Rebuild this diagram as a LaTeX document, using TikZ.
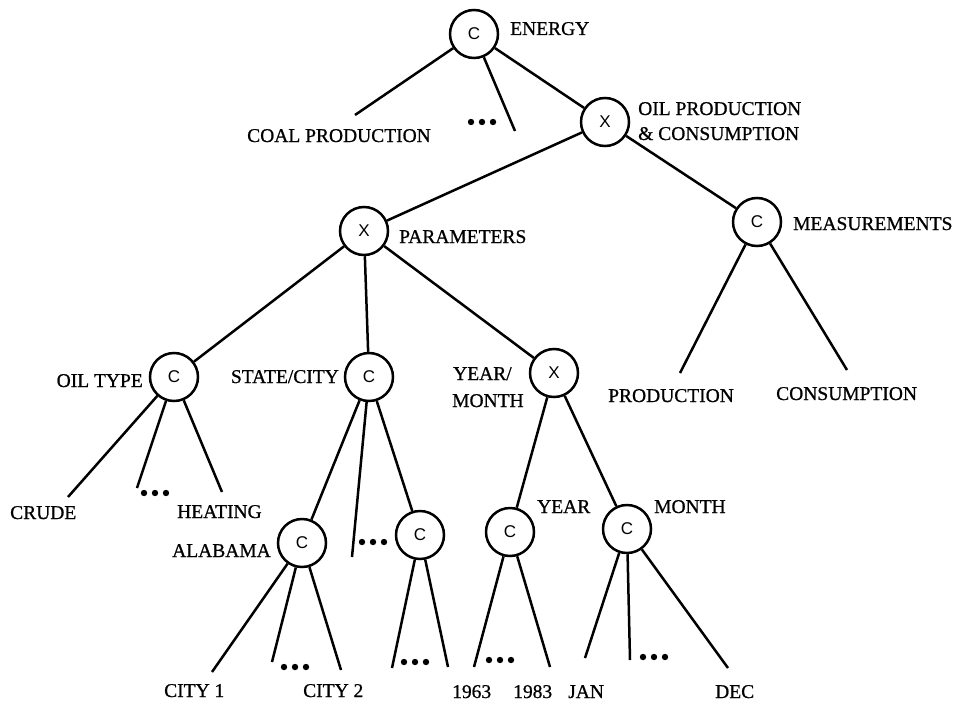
\documentclass[tikz,border=0pt]{standalone}
\usepackage{fontspec}
\setmainfont[FakeBold=0.8]{Liberation Serif}
\newfontfamily\circfont{Liberation Sans}
\begin{document}
\begin{tikzpicture}[x=1pt,y=-1pt,
  op/.style={circle,draw,line width=2.5pt,minimum size=48pt,inner sep=0pt,font=\circfont\fontsize{17}{17}\selectfont},
  lab/.style={inner sep=0pt,font=\fontsize{19.5}{20}\selectfont},
  edge/.style={line width=2.5pt},
  ell/.pic={\foreach \dx in {-11,0,11} \fill (\dx,0) circle (3.2);}
]
\useasboundingbox (0,0) rectangle (955,701);

% operator circles
\node[op] (en)    at (474,34)  {C};
\node[op] (oil)   at (605,122) {X};
\node[op] (par)   at (364,231) {X};
\node[op] (meas)  at (757,222) {C};
\node[op] (otype) at (174,377) {C};
\node[op] (sc)    at (369,377) {C};
\node[op] (ym)    at (554,373) {X};
\node[op] (ala)   at (302,543) {C};
\node[op] (un)    at (420,535) {C};
\node[op] (yr)    at (510,532) {C};
\node[op] (mo)    at (627,529) {C};

% labels
\node[lab,anchor=base west] (lenergy) at (510,35) {ENERGY};
\node[lab,anchor=base west] (lcoal) at (247,142) {COAL PRODUCTION};
\node[lab,anchor=base west] (loil1) at (638,115) {OIL PRODUCTION};
\node[lab,anchor=base west] (loil2) at (638,140) {\& CONSUMPTION};
\node[lab,anchor=base west] (lpar) at (399,243) {PARAMETERS};
\node[lab,anchor=base west] (lmeas) at (793,230) {MEASUREMENTS};
\node[lab,anchor=base east] (lotype) at (143,387) {OIL TYPE};
\node[lab,anchor=base east] (lsc) at (339,383) {STATE/CITY};
\node[lab,anchor=base west] (lym1) at (453,380) {YEAR/};
\node[lab,anchor=base west] (lym2) at (452,407) {MONTH};
\node[lab,anchor=base west] (lprod) at (608,402) {PRODUCTION};
\node[lab,anchor=base west] (lcons) at (776,400) {CONSUMPTION};
\node[lab,anchor=base west] (lcrude) at (10,519) {CRUDE};
\node[lab,anchor=base west] (lheat) at (177,518) {HEATING};
\node[lab,anchor=base east] (lala) at (271,557) {ALABAMA};
\node[lab,anchor=base west] (lyear) at (537,513) {YEAR};
\node[lab,anchor=base west] (lmonth) at (654,513) {MONTH};
\node[lab,anchor=base west] (lcity1) at (164,697) {CITY 1};
\node[lab,anchor=base west] (lcity2) at (303,697) {CITY 2};
\node[lab,anchor=base west] (l1963) at (452,698) {1963};
\node[lab,anchor=base west] (l1983) at (513,698) {1983};
\node[lab,anchor=base west] (ljan) at (568,698) {JAN};
\node[lab,anchor=base west] (ldec) at (715,698) {DEC};

% free ends
\coordinate (e1) at (355,115);
\coordinate (e2) at (515,131);
\coordinate (m1) at (680,373);
\coordinate (m2) at (847,370);
\coordinate (o1) at (68,497);
\coordinate (o2) at (137,488);
\coordinate (o3) at (222,492);
\coordinate (s2) at (352,557);
\coordinate (a1) at (212,672);
\coordinate (a2) at (272,662);
\coordinate (a3) at (341,670);
\coordinate (u1) at (392,668);
\coordinate (u2) at (448,667);
\coordinate (y1) at (474,667);
\coordinate (y2) at (550,667);
\coordinate (n1) at (585,658);
\coordinate (n2) at (630,660);
\coordinate (n3) at (728,668);

% connectors
\draw[edge] (en) -- (e1);
\draw[edge] (en) -- (e2);
\draw[edge] (en) -- (oil);
\draw[edge] (oil) -- (par);
\draw[edge] (oil) -- (meas);
\draw[edge] (meas) -- (m1);
\draw[edge] (meas) -- (m2);
\draw[edge] (par) -- (otype);
\draw[edge] (par) -- (sc);
\draw[edge] (par) -- (ym);
\draw[edge] (otype) -- (o1);
\draw[edge] (otype) -- (o2);
\draw[edge] (otype) -- (o3);
\draw[edge] (sc) -- (ala);
\draw[edge] (sc) -- (s2);
\draw[edge] (sc) -- (un);
\draw[edge] (ym) -- (yr);
\draw[edge] (ym) -- (mo);
\draw[edge] (ala) -- (a1);
\draw[edge] (ala) -- (a2);
\draw[edge] (ala) -- (a3);
\draw[edge] (un) -- (u1);
\draw[edge] (un) -- (u2);
\draw[edge] (yr) -- (y1);
\draw[edge] (yr) -- (y2);
\draw[edge] (mo) -- (n1);
\draw[edge] (mo) -- (n2);
\draw[edge] (mo) -- (n3);

% ellipses
\pic at (482,122) {ell};
\pic at (155,493) {ell};
\pic at (373,542) {ell};
\pic at (295,667) {ell};
\pic at (415,662) {ell};
\pic at (500,660) {ell};
\pic at (654,657) {ell};
\end{tikzpicture}
\end{document}
